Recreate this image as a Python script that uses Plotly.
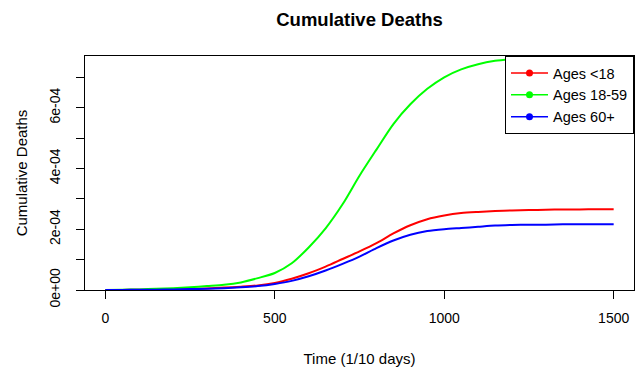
import plotly.graph_objects as go

time_steps = [0, 50, 100, 150, 200, 250, 300, 350, 400, 450, 500, 550, 600, 650, 700,
              750, 800, 850, 900, 950, 1000, 1050, 1100, 1150, 1200, 1250, 1300, 1350,
              1400, 1450, 1500]

deaths_under18 = [0.0, 0.0, 0.01e-4, 0.01e-4, 0.02e-4, 0.03e-4, 0.05e-4, 0.08e-4, 0.11e-4,
                  0.15e-4, 0.23e-4, 0.37e-4, 0.55e-4, 0.77e-4, 1.02e-4, 1.27e-4, 1.54e-4,
                  1.86e-4, 2.13e-4, 2.33e-4, 2.45e-4, 2.53e-4, 2.57e-4, 2.60e-4, 2.62e-4,
                  2.63e-4, 2.64e-4, 2.65e-4, 2.65e-4, 2.66e-4, 2.66e-4]

deaths_18_59 = [0.0, 0.01e-4, 0.02e-4, 0.04e-4, 0.06e-4, 0.09e-4, 0.13e-4, 0.17e-4, 0.25e-4,
                0.39e-4, 0.56e-4, 0.88e-4, 1.40e-4, 2.03e-4, 2.82e-4, 3.76e-4, 4.62e-4,
                5.46e-4, 6.11e-4, 6.62e-4, 7.00e-4, 7.26e-4, 7.43e-4, 7.54e-4, 7.60e-4,
                7.64e-4, 7.66e-4, 7.67e-4, 7.68e-4, 7.69e-4, 7.69e-4]

deaths_60plus = [0.0, 0.0, 0.01e-4, 0.01e-4, 0.02e-4, 0.03e-4, 0.04e-4, 0.06e-4, 0.09e-4,
                 0.13e-4, 0.20e-4, 0.30e-4, 0.45e-4, 0.64e-4, 0.86e-4, 1.10e-4, 1.38e-4,
                 1.63e-4, 1.82e-4, 1.94e-4, 2.00e-4, 2.04e-4, 2.08e-4, 2.12e-4, 2.14e-4,
                 2.15e-4, 2.15e-4, 2.16e-4, 2.16e-4, 2.16e-4, 2.16e-4]

series_names = ["Ages <18", "Ages 18-59", "Ages 60+"]
series_colors = ["#FF0000", "#00FF00", "#0000FF"]

y_tick_vals = [0, 1e-4, 2e-4, 3e-4, 4e-4, 5e-4, 6e-4, 7e-4]
y_tick_text = ["0e+00", "", "2e-04", "", "4e-04", "", "6e-04", ""]
x_tick_vals = [0, 500, 1000, 1500]
x_tick_text = ["0", "500", "1000", "1500"]

FONT = "Liberation Sans, Arial, sans-serif"

fig = go.Figure()
for name, color, ys in zip(series_names, series_colors,
                           [deaths_under18, deaths_18_59, deaths_60plus]):
    fig.add_trace(go.Scatter(
        x=time_steps, y=ys, name=name, mode="lines", showlegend=False,
        line=dict(color=color, width=2, shape="spline", smoothing=0.8),
    ))
# legend entries: line with a dot, as in the R legend
for name, color in zip(series_names, series_colors):
    fig.add_trace(go.Scatter(
        x=[None], y=[None], name=name, mode="lines+markers",
        line=dict(color=color, width=1.5),
        marker=dict(color=color, size=7),
    ))

fig.update_layout(
    width=639, height=368,
    margin=dict(l=85, r=5, t=56, b=78),
    paper_bgcolor="white", plot_bgcolor="white",
    font=dict(family=FONT, color="black", size=14),
    title=dict(text="<b>Cumulative Deaths</b>", x=0.5, xref="paper", xanchor="center",
               y=1 - 19.5 / 368, yref="container", yanchor="middle",
               font=dict(size=18.5, family=FONT, color="black")),
    showlegend=True,
    legend=dict(x=1, y=1, xanchor="right", yanchor="top",
                bordercolor="black", borderwidth=1, bgcolor="white",
                font=dict(size=14.5, family=FONT, color="black"),
                tracegroupgap=0, itemwidth=37,
                entrywidth=96, entrywidthmode="pixels"),
    xaxis=dict(range=[-60, 1560], tickvals=x_tick_vals, ticktext=x_tick_text,
               showgrid=False, zeroline=False, showline=True, mirror=True,
               linecolor="black", linewidth=1, ticks="outside", ticklen=8,
               tickcolor="black", tickfont=dict(size=14), ticklabelstandoff=7,
               title=dict(text="Time (1/10 days)", font=dict(size=15), standoff=28)),
    yaxis=dict(range=[0, 7.70e-4], tickvals=y_tick_vals, ticktext=y_tick_text,
               showgrid=False, zeroline=False, showline=True, mirror=True,
               linecolor="black", linewidth=1, ticks="outside", ticklen=8,
               tickcolor="black", tickangle=-90, tickfont=dict(size=14),
               ticklabelstandoff=10,
               title=dict(text="Cumulative Deaths", font=dict(size=15), standoff=16)),
)

fig.write_html("out.html")
